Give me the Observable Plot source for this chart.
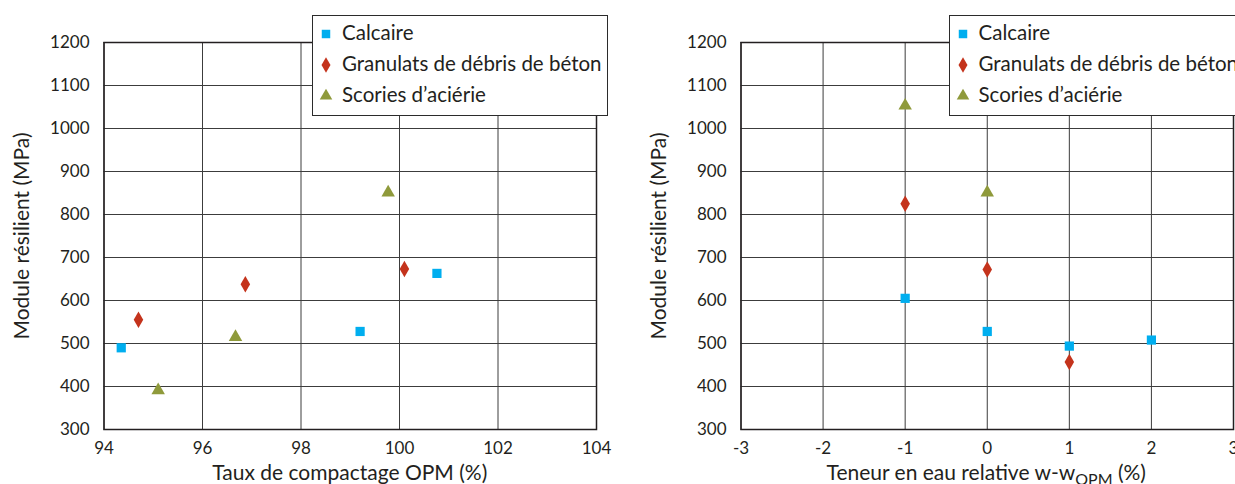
<!DOCTYPE html>
<html>
<head>
<meta charset="utf-8">
<script src="https://cdn.jsdelivr.net/npm/d3@7"></script>
<script src="https://cdn.jsdelivr.net/npm/@observablehq/plot@0.6"></script>
<style>
  html, body { margin: 0; padding: 0; background: #fff; overflow: hidden; width: 1235px; height: 484px; }
  #wrap { position: relative; width: 1275px; height: 484px; }
  .panel { position: absolute; top: 0; width: 636px; height: 484px; }
  .panel svg { position: absolute; left: 0; top: 0; }
  .legend { position: absolute; left: 312px; top: 14.5px; width: 296px; height: 101px; box-sizing: border-box;
            border: 1.5px solid #2b2b2b; background: #fff; font-family: Lato, "Open Sans", sans-serif;
            font-size: 20.5px; color: #231f20; white-space: nowrap; }
  .legend .row { position: absolute; left: 0; height: 24px; line-height: 24px; }
  .legend .row svg { position: absolute; left: 4px; top: 4px; }
  .legend .row span { position: absolute; left: 29px; top: -1px; }
</style>
</head>
<body>
<div id="wrap"></div>
<script>
// ---- data ----
const seriesNames = ["Calcaire", "Granulats de débris de béton", "Scories d’aciérie"];
const seriesColors = ["#00aeef", "#c4331c", "#8f9a3b"];
const seriesSymbols = ["square", "diamond", "triangle"];

// Panel 1: Taux de compactage OPM (%)
const compactageCalcaire = [94.35, 99.2, 100.76];
const moduleCompCalcaire = [490, 528, 663];
const compactageGranulats = [94.7, 96.87, 100.1];
const moduleCompGranulats = [555, 638, 673];
const compactageScories = [95.1, 96.67, 99.77];
const moduleCompScories = [391, 515, 851];

// Panel 2: Teneur en eau relative w-wOPM (%)
const teneurCalcaire = [-1, 0, 1, 2];
const moduleTenCalcaire = [605, 528, 494, 508];
const teneurGranulats = [-1, 0, 1];
const moduleTenGranulats = [825, 672, 457];
const teneurScories = [-1, 0];
const moduleTenScories = [1053, 851];

const yTicks = [300, 400, 500, 600, 700, 800, 900, 1000, 1100, 1200];
const xTicksComp = [94, 96, 98, 100, 102, 104];
const xTicksTen = [-3, -2, -1, 0, 1, 2, 3];
const yTitle = "Module résilient (MPa)";
const xTitleComp = "Taux de compactage OPM (%)";

// ---- helpers ----
const pts = (xs, ys) => xs.map((x, i) => ({x, y: ys[i]}));
const dotR = {square: 5.2, diamond: 5.0, triangle: 5.0};
const FONT = "Lato, 'Open Sans', sans-serif";
const plain = d => String(d).replace("\u2212", "-");

function makePanel(left, xDomain, xTicks, seriesPts, xTitleNode) {
  const div = document.createElement("div");
  div.className = "panel";
  div.style.left = left + "px";
  const chart = Plot.plot({
    width: 636, height: 484,
    marginLeft: 103.5, marginRight: 40, marginTop: 42, marginBottom: 55,
    style: {fontFamily: FONT, fontSize: "16px", color: "#231f20", background: "transparent", overflow: "visible"},
    x: {domain: xDomain},
    y: {domain: [300, 1200]},
    marks: [
      Plot.gridX(xTicks, {stroke: "#3c3c3c", strokeOpacity: 1, strokeWidth: 1}),
      Plot.gridY(yTicks, {stroke: "#3c3c3c", strokeOpacity: 1, strokeWidth: 1}),
      Plot.frame({stroke: "#231f20", strokeWidth: 1.5}),
      Plot.axisX(xTicks, {tickSize: 0, tickPadding: 12, fontSize: 17, label: null, tickFormat: plain}),
      Plot.axisY(yTicks, {tickSize: 0, tickPadding: 14.5, fontSize: 17, label: null, tickFormat: plain}),
      ...seriesPts.map((p, i) => Plot.dot(p, {x: "x", y: "y", symbol: seriesSymbols[i], fill: seriesColors[i], r: dotR[seriesSymbols[i]], stroke: "none"})),
      Plot.text([yTitle], {frameAnchor: "left", rotate: -90, dx: -81.5, fontSize: 21, fill: "#231f20", textAnchor: "middle", lineAnchor: "middle"})
    ]
  });
  div.appendChild(chart);
  div.appendChild(xTitleNode);

  // legend
  const leg = document.createElement("div");
  leg.className = "legend";
  const symType = {square: d3.symbolSquare, diamond: d3.symbolDiamond, triangle: d3.symbolTriangle};
  const symSize = {square: 72, diamond: 70, triangle: 68};
  seriesNames.forEach((name, i) => {
    const row = document.createElement("div");
    row.className = "row";
    row.style.top = (5.5 + i * 31) + "px";
    const s = d3.create("svg").attr("width", 18).attr("height", 18);
    s.append("path").attr("transform", "translate(9,9)")
      .attr("d", d3.symbol(symType[seriesSymbols[i]], symSize[seriesSymbols[i]])())
      .attr("fill", seriesColors[i]);
    row.appendChild(s.node());
    const sp = document.createElement("span");
    sp.textContent = name;
    row.appendChild(sp);
    leg.appendChild(row);
  });
  div.appendChild(leg);
  return div;
}

function titleNode(parts) {
  const t = document.createElement("div");
  t.style.cssText = `position:absolute;left:103.5px;width:492.5px;top:459px;text-align:center;font-family:${FONT};font-size:21px;color:#231f20;white-space:nowrap;line-height:26px;`;
  parts.forEach(([txt, sub]) => {
    const s = document.createElement(sub ? "sub" : "span");
    s.textContent = txt;
    if (sub) s.style.cssText = "font-size:16px;vertical-align:-5px;line-height:0;";
    t.appendChild(s);
  });
  return t;
}

const wrap = document.getElementById("wrap");
wrap.appendChild(makePanel(0, [94, 104], xTicksComp,
  [pts(compactageCalcaire, moduleCompCalcaire), pts(compactageGranulats, moduleCompGranulats), pts(compactageScories, moduleCompScories)],
  titleNode([[xTitleComp, false]])));
wrap.appendChild(makePanel(636.5, [-3, 3], xTicksTen,
  [pts(teneurCalcaire, moduleTenCalcaire), pts(teneurGranulats, moduleTenGranulats), pts(teneurScories, moduleTenScories)],
  titleNode([["Teneur en eau relative w-w", false], ["OPM", true], [" (%)", false]])));
</script>
</body>
</html>
